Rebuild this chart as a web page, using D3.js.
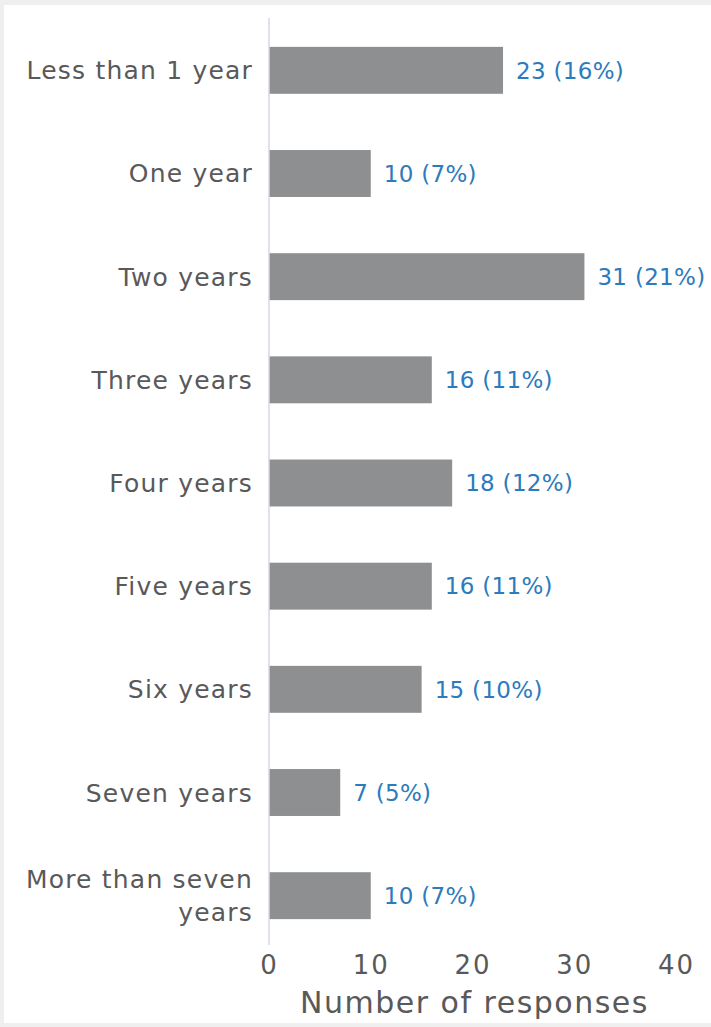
<!DOCTYPE html>
<html>
<head>
<meta charset="utf-8">
<script src="https://cdn.jsdelivr.net/npm/d3@7"></script>
<style>
  body { margin: 0; background: #efefef; }
  svg { display: block; }
  .cat { font-family: "DejaVu Sans", sans-serif; font-size: 25px; letter-spacing: 1.2px; fill: #595959; }
  .val { font-family: "DejaVu Sans", sans-serif; font-size: 23px; letter-spacing: 0.3px; fill: #2b7bbd; }
  .tick text { font-family: "DejaVu Sans", sans-serif; font-size: 26px; letter-spacing: 2px; fill: #595959; }
</style>
</head>
<body>
<div id="chart"></div>
<script>
// data
var categories = ["Less than 1 year", "One year", "Two years", "Three years", "Four years",
                  "Five years", "Six years", "Seven years", "More than seven years"];
var counts   = [23, 10, 31, 16, 18, 16, 15, 7, 10];
var percents = ["16%", "7%", "21%", "11%", "12%", "11%", "10%", "5%", "7%"];
var xTicks   = [0, 10, 20, 30, 40];

var width  = 711,
    height = 1027;

var svg = d3.select("#chart")
    .append("svg")
    .attr("width", width)
    .attr("height", height);

// white panel
svg.append("rect")
    .attr("x", 4)
    .attr("y", 5)
    .attr("width", width - 4)
    .attr("height", height - 9)
    .style("fill", "#fff");

var x = d3.scaleLinear()
    .domain([0, 40])
    .range([269, 676]);

var y = d3.scaleBand()
    .domain(categories)
    .range([19, 947])
    .paddingInner(0.545)
    .paddingOuter(0.27);

// bars
svg.selectAll(".bar")
    .data(categories)
    .enter()
    .append("rect")
    .attr("class", "bar")
    .attr("x", x(0))
    .attr("y", function(d){ return y(d); })
    .attr("width", function(d, i){ return x(counts[i]) - x(0); })
    .attr("height", y.bandwidth())
    .style("fill", "#8e8f91");

// value labels
svg.selectAll(".val")
    .data(categories)
    .enter()
    .append("text")
    .attr("class", "val")
    .attr("x", function(d, i){ return x(counts[i]) + 13; })
    .attr("y", function(d){ return y(d) + y.bandwidth() / 2; })
    .attr("dy", "0.36em")
    .text(function(d, i){ return counts[i] + " (" + percents[i] + ")"; });

// category labels (wrap long one)
svg.selectAll(".cat")
    .data(categories)
    .enter()
    .append("text")
    .attr("class", "cat")
    .attr("text-anchor", "end")
    .attr("x", 253)
    .attr("y", function(d){ return y(d) + y.bandwidth() / 2; })
    .each(function(d){
        var t = d3.select(this);
        var lines = d == "More than seven years" ? ["More than seven", "years"] : [d];
        var off = -(lines.length - 1) * 0.66;
        lines.forEach(function(l, j){
            t.append("tspan")
                .attr("x", 253)
                .attr("dy", j == 0 ? (off + 0.36) + "em" : "1.32em")
                .text(l);
        });
    });

// y axis line
svg.append("line")
    .attr("x1", x(0)).attr("x2", x(0))
    .attr("y1", 18).attr("y2", 945)
    .style("stroke", "#d6d9e4")
    .style("stroke-width", 1.5);

// x axis
var xAxis = svg.append("g")
    .attr("transform", "translate(0,965)")
    .call(d3.axisBottom(x).tickValues(xTicks).tickSize(0).tickPadding(0));
xAxis.select(".domain").remove();
xAxis.selectAll(".tick text").attr("dy", "0.36em");

svg.append("text")
    .attr("x", (x(0) + x(40)) / 2 + 2)
    .attr("y", 1013)
    .attr("text-anchor", "middle")
    .style("font-family", "DejaVu Sans, sans-serif")
    .style("font-size", "30px")
    .style("letter-spacing", "1.5px")
    .style("fill", "#595959")
    .text("Number of responses");
</script>
</body>
</html>
